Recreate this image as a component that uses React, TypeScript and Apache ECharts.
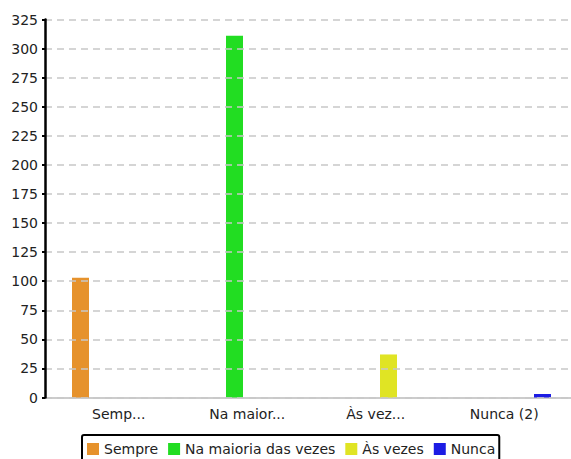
import React, { useEffect, useRef } from "react";
import * as echarts from "echarts";

const categories = ["Semp...", "Na maior...", "Às vez...", "Nunca (2)"];
const seriesNames = ["Sempre", "Na maioria das vezes", "Às vezes", "Nunca"];
const sempre = [103, 0, 0, 0];
const naMaioria = [0, 311, 0, 0];
const asVezes = [0, 0, 37, 0];
const nunca = [0, 0, 0, 3];
const colors = ["#E6922C", "#22DD22", "#E0E424", "#1C1CE4"];

const FONT = "DejaVu Sans";

export default function App() {
  const ref = useRef<HTMLDivElement>(null);
  useEffect(() => {
    if (!ref.current) return;
    const chart = echarts.init(ref.current, undefined, { renderer: "svg" });
    const data = [sempre, naMaioria, asVezes, nunca];
    chart.setOption({
      animation: false,
      textStyle: { fontFamily: FONT },
      legend: {
        data: seriesNames,
        left: 82,
        top: 435,
        itemWidth: 12,
        itemHeight: 12,
        itemGap: 10,
        icon: "rect",
        padding: [7, 4, 7, 5],
        borderColor: "#000",
        borderWidth: 2,
        borderRadius: 2,
        backgroundColor: "#fff",
        textStyle: { fontFamily: FONT, fontSize: 14, color: "#222" },
      },
      grid: [
        { left: 54.5, right: 2.5, top: 19.5, bottom: 61.5 },
        { left: 45, right: 0, top: 19.5, bottom: 61.5 },
      ],
      xAxis: [
        {
          type: "category",
          gridIndex: 0,
          data: categories,
          axisLine: { show: false },
          axisTick: { show: false },
          axisLabel: { fontFamily: FONT, fontSize: 14, color: "#222", margin: 9, interval: 0 },
        },
        {
          type: "value",
          gridIndex: 1,
          min: 0,
          max: 1,
          axisLine: { show: true, lineStyle: { color: "#cccccc", width: 2 } },
          axisTick: { show: false },
          axisLabel: { show: false },
          splitLine: { show: false },
        },
      ],
      yAxis: [
        {
          type: "value",
          gridIndex: 0,
          min: 0,
          max: 325,
          interval: 25,
          show: false,
          splitLine: { show: false },
        },
        {
          type: "value",
          gridIndex: 1,
          min: 0,
          max: 325,
          interval: 25,
          axisLine: { show: true, lineStyle: { color: "#000", width: 2.5 } },
          axisTick: { show: true, length: 3, lineStyle: { color: "#000", width: 2 } },
          axisLabel: { fontFamily: FONT, fontSize: 14, color: "#222", margin: 7 },
          splitLine: { show: true, lineStyle: { color: "#c8c8c8", type: [7, 5], width: 1.5 } },
          z: 3,
        },
      ],
      series: seriesNames.map((name, i) => ({
        name,
        type: "bar",
        xAxisIndex: 0,
        yAxisIndex: 0,
        data: data[i],
        barWidth: 17,
        barGap: "50%",
        itemStyle: { color: colors[i] },
      })),
    });
    return () => chart.dispose();
  }, []);
  return <div ref={ref} style={{ width: 571, height: 459, position: "absolute", left: 0, top: 0 }} />;
}
